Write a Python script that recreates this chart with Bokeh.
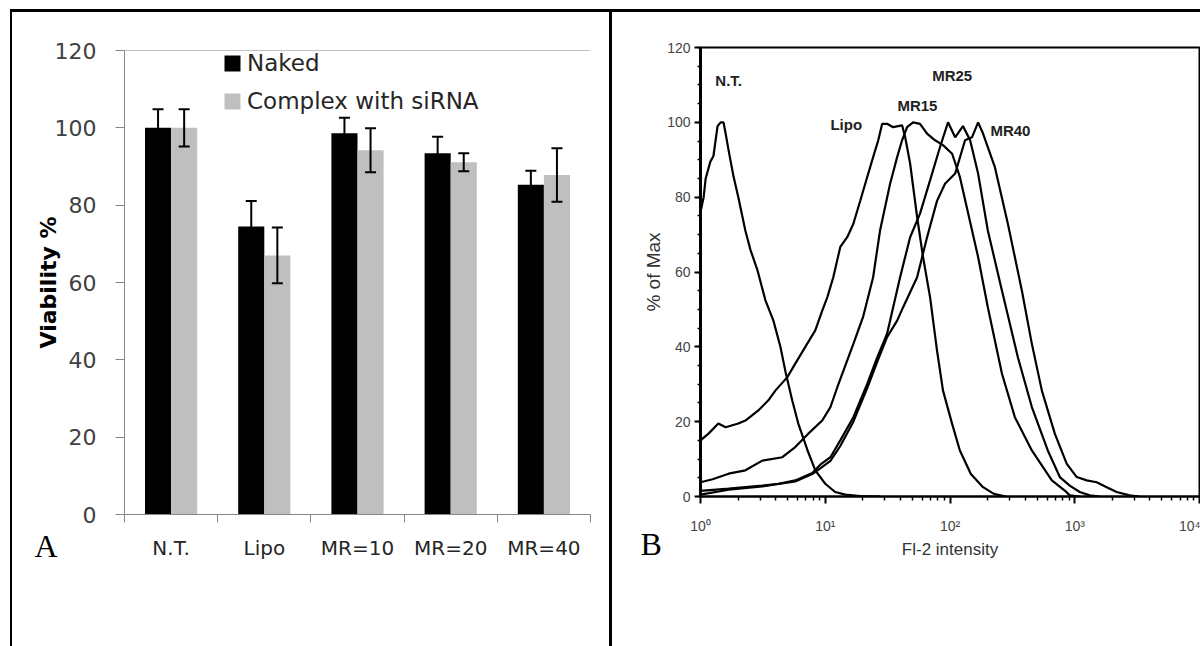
import numpy as np
from bokeh.plotting import figure
from bokeh.layouts import row
from bokeh.models import (ColumnDataSource, Range1d, FixedTicker, SingleIntervalTicker,
                          Whisker, TeeHead, Legend, LegendItem, Label, Span, Title,
                          BasicTickFormatter)
from bokeh.embed import file_html
from bokeh.resources import INLINE

# ---------------- Panel A data (viability bar chart) ----------------
categories = ["N.T.", "Lipo", "MR=10", "MR=20", "MR=40"]
naked = [100.0, 74.5, 98.6, 93.4, 85.3]
naked_err = [4.8, 6.6, 4.0, 4.3, 3.6]
complex_sirna = [100.0, 67.0, 94.2, 91.1, 87.8]
complex_err = [4.8, 7.2, 5.7, 2.3, 6.9]
viability_ticks = [0, 20, 40, 60, 80, 100, 120]

# ---------------- Panel B data (flow cytometry histograms) ----------------
nt_x = [1.00, 1.06, 1.10, 1.20, 1.27, 1.37, 1.45, 1.53, 1.59, 1.68, 1.84, 2.01, 2.29, 2.51,
        2.86, 3.31, 3.84, 4.37, 4.79, 5.45, 6.08, 7.18, 8.32, 10.0, 12.0, 14.5, 19.1, 27.5]
nt_y = [76, 80, 85, 89.5, 91, 99, 100, 100, 97, 92.5, 85.5, 80, 71, 66,
        60.5, 52.5, 47, 40, 33.5, 25.5, 19.5, 12.5, 7, 3.4, 1.2, 0.5, 0.1, 0]

lipo_x = [1.00, 1.16, 1.39, 1.59, 2.01, 2.29, 2.91, 3.50, 3.98, 4.97, 5.75, 6.92, 8.32, 9.46,
          10.4, 11.6, 13.2, 15.0, 16.8, 19.1, 21.7, 24.2, 26.6, 28.6, 31.3, 35.0, 41.3, 43.7,
          47.9, 54.5, 60.8, 69.2, 78.7, 87.9, 104, 120, 147, 184, 225, 281]
lipo_y = [15, 16.8, 19.5, 18.5, 19.5, 20.3, 23, 25.7, 28.3, 31.9, 35.5, 40, 44.4, 49.7,
          53.3, 58.6, 66.7, 69.3, 72.9, 79.1, 85.4, 90.7, 95.2, 99.6, 99.6, 98.7, 99.2, 96.1,
          89, 74.7, 64, 53.3, 39, 28.3, 19.4, 12.3, 6, 2.5, 0.7, 0]

mr15_x = [1.00, 1.25, 1.68, 2.29, 3.13, 4.53, 5.75, 7.31, 9.46, 11.0, 12.5, 16.8, 20.1, 24.2,
          27.5, 33.1, 37.7, 41.3, 45.3, 50.6, 57.5, 65.5, 75.9, 87.9, 104, 120, 168, 201, 261,
          331, 453, 655, 832, 912, 1096]
mr15_y = [3.8, 4.6, 6.1, 7.0, 9.6, 10.5, 13.2, 16.8, 20.3, 23.9, 29.2, 40.8, 48, 58.6,
          71.1, 83.6, 90.7, 95.2, 98.7, 100, 99.6, 97, 95.2, 93.9, 91.6, 85.4, 64, 50.6, 32.8,
          21.2, 12.3, 4.3, 1.6, 0.3, 0]

mr25_x = [1.00, 1.68, 3.13, 4.21, 5.75, 7.87, 9.12, 11.0, 13.2, 16.8, 21.7, 26.1, 31.3, 39.8,
          47.9, 57.5, 69.2, 83.2, 96.4, 110, 127, 145, 168, 201, 261, 350, 453, 608, 759, 912,
          1096, 1318, 1585]
mr25_y = [1.5, 2.1, 2.9, 3.4, 4.3, 6.3, 8.5, 10.5, 15, 21.2, 30.1, 37.2, 43.5, 58.6,
          69.3, 75.6, 84.5, 93.4, 100, 96, 99, 95.2, 86.3, 71.1, 55, 37.2, 23.9, 12.3, 5.2, 2.9,
          1.2, 0.3, 0]

mr40_x = [1.00, 1.68, 3.13, 5.75, 7.87, 9.12, 11.0, 13.2, 16.8, 21.7, 26.1, 31.3, 37.7, 42.1,
          54.5, 65.5, 78.7, 91.2, 110, 132, 150, 168, 184, 229, 291, 377, 453, 545, 692, 863,
          1038, 1247, 1500, 1803, 2168, 2754, 3311]
mr40_y = [0.5, 1.8, 2.7, 4.0, 6.0, 7.5, 9.5, 13.5, 20, 29, 36, 42.6, 47, 50.6,
          58.6, 69.3, 79, 83.6, 86.3, 95.2, 96, 100, 97, 88, 72.9, 55, 40.8, 28.3, 16.8, 8.7,
          5.2, 4.3, 3.8, 2.5, 1.2, 0.3, 0]

curve_labels = ["N.T.", "Lipo", "MR15", "MR25", "MR40"]
curve_label_x = [1.314, 11.0, 37.9, 72.0, 211.0]
curve_label_y = [111.2, 99.4, 104.5, 112.6, 97.9]

intensity_ticks = [1, 10, 100, 1000, 10000]
intensity_tick_labels = ["10\u2070", "10\u00b9", "10\u00b2", "10\u00b3", "10\u2074"]
percent_ticks_interval = 20

# ======================= Panel A =======================
pA = figure(width=610, height=646, x_range=Range1d(0, 5), y_range=Range1d(0, 120),
            output_backend="svg", toolbar_location=None, frame_align=False,
            min_border_left=124, min_border_right=20, min_border_top=50, min_border_bottom=132)
pA.outline_line_color = None
pA.xgrid.grid_line_color = None
pA.ygrid.grid_line_color = None
pA.background_fill_color = "white"
pA.border_fill_color = None
pA.styles = {"box-shadow": "inset 0 9px 0 0 white, inset 10px 0 0 0 white, "
                           "inset 12px 12px 0 0 black, inset -1px 0 0 0 black"}

x_idx = np.arange(len(categories)) + 0.5
srcA = ColumnDataSource(dict(
    x=x_idx, xb=x_idx - 0.14, xg=x_idx + 0.14,
    naked=naked, complex=complex_sirna,
    nb_lo=np.array(naked) - np.array(naked_err), nb_hi=np.array(naked) + np.array(naked_err),
    cg_lo=np.array(complex_sirna) - np.array(complex_err),
    cg_hi=np.array(complex_sirna) + np.array(complex_err),
))

rb = pA.vbar(x="xb", top="naked", bottom=0, width=0.28, fill_color="black",
             line_color=None, source=srcA)
rg = pA.vbar(x="xg", top="complex", bottom=0, width=0.28, fill_color="#BFBFBF",
             line_color=None, source=srcA)

for base, lo, hi in [("xb", "nb_lo", "nb_hi"), ("xg", "cg_lo", "cg_hi")]:
    w = Whisker(base=base, lower=lo, upper=hi, source=srcA, dimension="height",
                line_color="black", line_width=2, level="annotation",
                upper_head=TeeHead(size=11, line_color="black", line_width=2),
                lower_head=TeeHead(size=11, line_color="black", line_width=2))
    pA.add_layout(w)

pA.add_layout(Span(location=120, dimension="width", line_color="#868686", line_width=1))

ya = pA.yaxis[0]
ya.ticker = FixedTicker(ticks=viability_ticks)
ya.axis_line_color = "#868686"
ya.major_tick_line_color = "#868686"
ya.major_tick_out = 9
ya.major_tick_in = 0
ya.minor_tick_line_color = None
ya.major_label_text_font = "DejaVu Sans"
ya.major_label_text_font_size = "22px"
ya.major_label_text_color = "#404040"
ya.major_label_standoff = 19
ya.axis_label = "Viability %"
ya.axis_label_text_font = "DejaVu Sans"
ya.axis_label_text_font_style = "bold"
ya.axis_label_text_font_size = "22px"
ya.axis_label_text_color = "black"
ya.axis_label_standoff = -9

xa = pA.xaxis[0]
xa.ticker = FixedTicker(ticks=list(x_idx), minor_ticks=list(range(len(categories) + 1)))
xa.major_label_overrides = {float(v): c for v, c in zip(x_idx, categories)}
xa.axis_line_color = "#868686"
xa.major_tick_line_color = None
xa.major_tick_out = 0
xa.major_tick_in = 0
xa.minor_tick_line_color = "#868686"
xa.minor_tick_out = 8
xa.minor_tick_in = 0
xa.major_label_text_font = "DejaVu Sans"
xa.major_label_text_font_size = "20px"
xa.major_label_text_color = "#262626"
xa.major_label_standoff = 13

legend = Legend(items=[LegendItem(label="Naked", renderers=[rb]),
                       LegendItem(label="Complex with siRNA", renderers=[rg])],
                location=(98, 400), orientation="vertical",
                border_line_color=None, background_fill_alpha=0,
                label_text_font="DejaVu Sans", label_text_font_size="23px",
                label_text_color="#262626", glyph_width=20, glyph_height=20,
                label_standoff=5, spacing=11, padding=0, margin=0, label_height=27)
pA.add_layout(legend)

pA.add_layout(Title(text="A", align="left", offset=-90, standoff=-70, vertical_align="top",
                    text_font="Liberation Serif", text_font_style="normal",
                    text_font_size="32px", text_color="black"), "below")

# ======================= Panel B =======================
pB = figure(width=590, height=646, x_axis_type="log", x_range=Range1d(1, 10000),
            y_range=Range1d(0, 120), output_backend="svg", toolbar_location=None,
            frame_align=False,
            min_border_left=90, min_border_right=1, min_border_top=47, min_border_bottom=150)
pB.outline_line_color = "black"
pB.outline_line_width = 2
pB.xgrid.grid_line_color = None
pB.ygrid.grid_line_color = None
pB.background_fill_color = "white"
pB.border_fill_color = None
pB.styles = {"box-shadow": "inset 0 9px 0 0 white, inset 2px 12px 0 0 black"}

for xs, ys in [(nt_x, nt_y), (lipo_x, lipo_y), (mr15_x, mr15_y), (mr25_x, mr25_y),
               (mr40_x, mr40_y)]:
    pB.line(xs, ys, line_color="black", line_width=2.2)

for t, lx, ly in zip(curve_labels, curve_label_x, curve_label_y):
    pB.add_layout(Label(x=lx, y=ly, text=t, text_align="left", text_baseline="alphabetic",
                        text_font="Liberation Sans", text_font_style="bold",
                        text_font_size="15px", text_color="#222222"))

yb = pB.yaxis[0]
yb.ticker = SingleIntervalTicker(interval=percent_ticks_interval, num_minor_ticks=4)
yb.axis_line_color = "black"
yb.axis_line_width = 3
yb.major_tick_line_color = "black"
yb.major_tick_line_width = 2
yb.major_tick_out = 6
yb.major_tick_in = 0
yb.minor_tick_line_color = "black"
yb.minor_tick_line_width = 1.5
yb.minor_tick_out = 3
yb.minor_tick_in = 0
yb.major_label_text_font = "Liberation Sans"
yb.major_label_text_font_size = "14px"
yb.major_label_text_color = "#444444"
yb.major_label_standoff = 4
yb.axis_label = "% of Max"
yb.axis_label_text_font = "Liberation Sans"
yb.axis_label_text_font_style = "normal"
yb.axis_label_text_font_size = "19px"
yb.axis_label_text_color = "#333333"
yb.axis_label_standoff = 0

xb = pB.xaxis[0]
xb.ticker = FixedTicker(ticks=intensity_ticks,
                        minor_ticks=[m * d for d in [1, 10, 100, 1000] for m in range(2, 10)])
xb.formatter = BasicTickFormatter()
xb.major_label_overrides = {v: s for v, s in zip(intensity_ticks, intensity_tick_labels)}
xb.axis_line_color = "black"
xb.axis_line_width = 2
xb.major_tick_line_color = "black"
xb.major_tick_line_width = 2
xb.major_tick_out = 7
xb.major_tick_in = 0
xb.minor_tick_line_color = "black"
xb.minor_tick_line_width = 1.5
xb.minor_tick_out = 4
xb.minor_tick_in = 0
xb.major_label_text_font = "Liberation Sans"
xb.major_label_text_font_size = "14px"
xb.major_label_text_color = "#444444"
xb.major_label_standoff = 14
xb.axis_label = "Fl-2 intensity"
xb.axis_label_text_font = "Liberation Sans"
xb.axis_label_text_font_style = "normal"
xb.axis_label_text_font_size = "17px"
xb.axis_label_text_color = "#333333"
xb.axis_label_standoff = 3

pB.add_layout(Title(text="B", align="left", offset=-60, standoff=-71, vertical_align="top",
                    text_font="Liberation Serif", text_font_style="normal",
                    text_font_size="32px", text_color="black"), "below")

p = row(pA, pB)
open("out.html", "w").write(file_html(p, INLINE))
